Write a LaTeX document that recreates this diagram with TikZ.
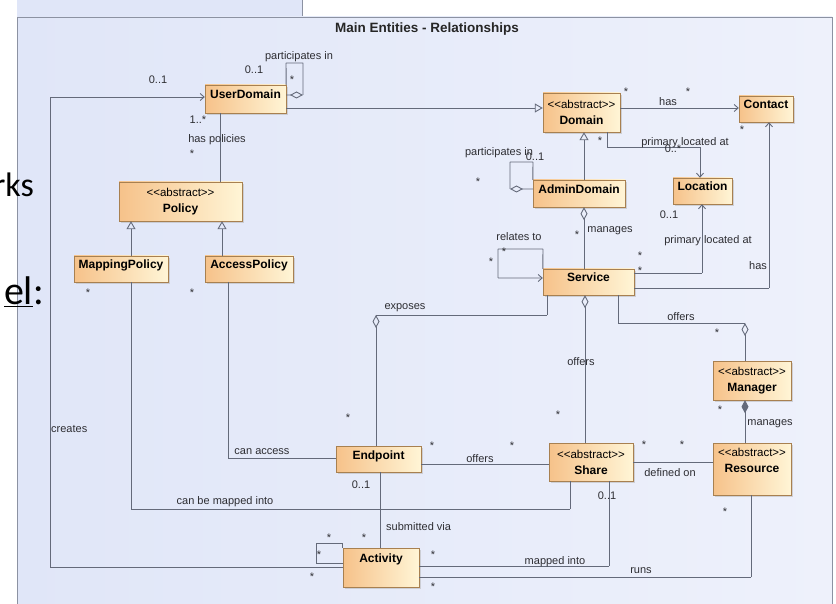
\documentclass[tikz,border=0pt]{standalone}
\usepackage{fontspec}
\setmainfont{Liberation Sans}
\newfontfamily\slidefont{Carlito}
\usetikzlibrary{positioning, arrows.meta, shadows}
\definecolor{boxdark}{RGB}{246,194,138}
\definecolor{boxlight}{RGB}{255,245,214}
\definecolor{boxline}{RGB}{168,128,80}
\definecolor{linegray}{RGB}{100,106,122}
\definecolor{framefill}{RGB}{224,230,248}
\definecolor{framefill2}{RGB}{238,241,251}
\definecolor{frameline}{RGB}{140,146,162}
\definecolor{labelgray}{RGB}{45,45,50}

\begin{document}
\begin{tikzpicture}[x=1pt,y=-1pt]
		\tikzstyle{box} = [draw=boxline, left color=boxdark, right color=boxlight, drop shadow={shadow xshift=2pt, shadow yshift=-2pt, fill=black!30}, inner sep=2pt, align=center, font=\fontsize{12}{16}\selectfont\bfseries]
		\tikzstyle{single} = [text height=9pt, text depth=9pt]
		\tikzstyle{invisible} = [outer sep=0,inner sep=0,minimum size=0]
		\tikzstyle{conn} = [draw=linegray, line width=0.9pt]
		\tikzstyle{gen} = [conn, -{Triangle[open, length=8pt, width=9pt]}]
		\tikzstyle{nav} = [conn, -{Straight Barb[length=4pt, width=7pt]}]
		\tikzstyle{agg} = [conn, {Diamond[open, length=13pt, width=7pt]}-]
		\tikzstyle{comp} = [conn, {Diamond[length=13pt, width=7pt]}-]
		\tikzstyle{lbl} = [inner sep=0, text=labelgray, font=\fontsize{11}{13}\selectfont]
		\tikzstyle{mult} = [lbl, yshift=-2.4pt]
		\useasboundingbox (0,0) rectangle (836,604);
		\fill [framefill] (17,0) rectangle (302,17);
		\draw [frameline] (302,0) -- (302,17);
		\draw [frameline, left color=framefill, right color=framefill2] (17,17) rectangle (832,612);
		\node [font=\fontsize{13.5}{15}\selectfont\bfseries, text=black!85] (v0) at (427,29) {Main Entities - Relationships};
		\node [font=\slidefont\fontsize{34}{40}\selectfont, anchor=base east, inner sep=0] (v110) at (34,197) {rks};
		\node [font=\slidefont\fontsize{40}{46}\selectfont, anchor=base east, inner sep=0] (v111) at (44,305) {\underline{el}:};
		\node [box, single, minimum width=81pt, minimum height=28pt] (v1) at (245.5,99) {UserDomain};
		\node [box, minimum width=77pt, minimum height=39pt] (v2) at (581.5,112.5) {{\mdseries\fontsize{11.5}{16}\selectfont <{}<abstract>{}>}\\Domain};
		\node [box, single, minimum width=54pt, minimum height=26pt] (v3) at (766,109) {Contact};
		\node [box, single, minimum width=92pt, minimum height=27pt] (v4) at (579,193.5) {AdminDomain};
		\node [box, single, minimum width=59pt, minimum height=26pt] (v5) at (702.5,191) {Location};
		\node [box, single, minimum width=91pt, minimum height=26pt] (v6) at (588.5,282) {Service};
		\node [box, minimum width=123pt, minimum height=39pt] (v7) at (180.5,201.5) {{\mdseries\fontsize{11.5}{16}\selectfont <{}<abstract>{}>}\\Policy};
		\node [box, single, minimum width=94pt, minimum height=26pt] (v8) at (121,269) {MappingPolicy};
		\node [box, single, minimum width=88pt, minimum height=26pt] (v9) at (249,269) {AccessPolicy};
		\node [box, minimum width=78pt, minimum height=39pt] (v10) at (752,380.5) {{\mdseries\fontsize{11.5}{16}\selectfont <{}<abstract>{}>}\\Manager};
		\node [box, text height=25pt, text depth=19pt, minimum width=78pt, minimum height=52pt] (v11) at (752,469) {{\mdseries\fontsize{11.5}{16}\selectfont <{}<abstract>{}>}\\Resource};
		\node [box, minimum width=84pt, minimum height=38pt] (v12) at (591,462) {{\mdseries\fontsize{11.5}{16}\selectfont <{}<abstract>{}>}\\Share};
		\node [box, single, minimum width=85pt, minimum height=26pt] (v13) at (378.5,459) {Endpoint};
		\node [box, text height=9pt, text depth=19.4pt, minimum width=76pt, minimum height=39pt] (v14) at (381,567.5) {Activity};
		\node [invisible] (v15) at (286,108) {};
		\draw [gen] (v15 -| v1.east) -- (v15 -| v2.west);
		\node [invisible] (v16) at (286,63) {};
		\node [invisible] (v17) at (303,63) {};
		\node [invisible] (v18) at (303,95) {};
		\draw [agg] (v1.north east) -- (v16) -- (v17) -- (v18) -- (v18 -| v1.east);
		\node [invisible] (v19) at (50,567) {};
		\node [invisible] (v20) at (50,97) {};
		\draw [nav] (v19 -| v14.west) -- (v19) -- (v20) -- (v20 -| v1.west);
		\node [invisible] (v21) at (220,150) {};
		\draw [conn] (v21 |- v1.south) -- (v21 |- v7.north);
		\node [invisible] (v22) at (131,240) {};
		\draw [gen] (v22 |- v8.north) -- (v22 |- v7.south);
		\node [invisible] (v23) at (222,240) {};
		\draw [gen] (v23 |- v9.north) -- (v23 |- v7.south);
		\node [invisible] (v24) at (131,509) {};
		\node [invisible] (v25) at (570,509) {};
		\draw [conn] (v24 |- v8.south) -- (v24) -- (v25) -- (v25 |- v12.south);
		\node [invisible] (v26) at (228,458) {};
		\draw [conn] (v26 |- v9.south) -- (v26) -- (v26 -| v13.west);
		\node [invisible] (v27) at (547,315) {};
		\node [invisible] (v28) at (376,315) {};
		\draw [agg] (v27 |- v6.south) -- (v27) -- (v28) -- (v28 |- v13.north);
		\node [invisible] (v29) at (480,464) {};
		\draw [conn] (v29 -| v13.east) -- (v29 -| v12.west);
		\node [invisible] (v30) at (380,510) {};
		\draw [conn] (v30 |- v13.south) -- (v30 |- v14.north);
		\node [invisible] (v31) at (316,543) {};
		\node [invisible] (v32) at (316,563) {};
		\draw [conn] (v14.north west) -- (v31 -| v14.west) -- (v31) -- (v32) -- (v32 -| v14.west);
		\node [invisible] (v33) at (585,360) {};
		\draw [agg] (v33 |- v6.south) -- (v33 |- v12.north);
		\node [invisible] (v34) at (618,323) {};
		\node [invisible] (v35) at (745,323) {};
		\draw [agg] (v34 |- v6.south) -- (v34) -- (v35) -- (v35 |- v10.north);
		\draw [comp] (v35 |- v10.south) -- (v35 |- v11.north);
		\node [invisible] (v36) at (670,462) {};
		\draw [conn] (v36 -| v12.east) -- (v36 -| v11.west);
		\node [invisible] (v37) at (609,566) {};
		\draw [conn] (v37 |- v12.south) -- (v37) -- (v37 -| v14.east);
		\node [invisible] (v38) at (751,577) {};
		\draw [conn] (v38 |- v11.south) -- (v38) -- (v38 -| v14.east);
		\node [invisible] (v39) at (680,108) {};
		\draw [nav] (v39 -| v2.east) -- (v39 -| v3.west);
		\node [invisible] (v40) at (607,147) {};
		\node [invisible] (v41) at (700,147) {};
		\draw [nav] (v40 |- v2.south) -- (v40) -- (v41) -- (v41 |- v5.north);
		\node [invisible] (v42) at (584,156) {};
		\draw [gen] (v42 |- v4.north) -- (v42 |- v2.south);
		\node [invisible] (v43) at (533,162) {};
		\node [invisible] (v44) at (510,162) {};
		\node [invisible] (v45) at (510,189) {};
		\draw [agg] (v4.north west) -- (v43) -- (v44) -- (v45) -- (v45 -| v4.west);
		\draw [agg] (v42 |- v4.south) -- (v42 |- v6.north);
		\node [invisible] (v46) at (543,249) {};
		\node [invisible] (v47) at (498,249) {};
		\node [invisible] (v48) at (498,278) {};
		\draw [nav] (v6.north west) -- (v46) -- (v47) -- (v48) -- (v48 -| v6.west);
		\node [invisible] (v49) at (702,273) {};
		\draw [nav] (v49 -| v6.east) -- (v49) -- (v49 |- v5.south);
		\node [invisible] (v50) at (769,288) {};
		\draw [nav] (v50 -| v6.east) -- (v50) -- (v50 |- v3.south);
		\node [lbl] (v51) at (299,57) {participates in};
		\node [lbl] (v52) at (254,70) {0..1};
		\node [mult] (v53) at (292,77) {*};
		\node [lbl] (v54) at (158,80) {0..1};
		\node [lbl] (v55) at (198,120) {1..*};
		\node [lbl] (v56) at (217,140) {has policies};
		\node [mult] (v57) at (192,151) {*};
		\node [lbl, anchor=west] (v58) at (51,429) {creates};
		\node [mult] (v59) at (312,574) {*};
		\node [mult] (v60) at (88,290) {*};
		\node [mult] (v61) at (192,290) {*};
		\node [lbl] (v62) at (225,502) {can be mapped into};
		\node [lbl] (v63) at (262,452) {can access};
		\node [mult] (v64) at (348,415) {*};
		\node [lbl] (v65) at (405,308) {exposes};
		\node [lbl] (v66) at (480,459) {offers};
		\node [mult] (v67) at (432,443) {*};
		\node [mult] (v68) at (512,443) {*};
		\node [lbl] (v69) at (361,485) {0..1};
		\node [lbl, anchor=west] (v70) at (386,527) {submitted via};
		\node [mult] (v71) at (329,535) {*};
		\node [mult] (v72) at (364,535) {*};
		\node [mult] (v73) at (319,552) {*};
		\node [lbl] (v74) at (581,362) {offers};
		\node [mult] (v75) at (558,412) {*};
		\node [lbl] (v76) at (681,317) {offers};
		\node [mult] (v77) at (717,330) {*};
		\node [lbl] (v78) at (770,424) {manages};
		\node [mult] (v79) at (720,407) {*};
		\node [lbl] (v80) at (670,473) {defined on};
		\node [mult] (v81) at (644,442) {*};
		\node [mult] (v82) at (682,442) {*};
		\node [lbl] (v83) at (607,496) {0..1};
		\node [lbl] (v84) at (555,562) {mapped into};
		\node [mult] (v85) at (433,552) {*};
		\node [lbl] (v86) at (641,571) {runs};
		\node [mult] (v87) at (433,584) {*};
		\node [mult] (v88) at (725,509) {*};
		\node [lbl] (v89) at (668,102) {has};
		\node [mult] (v90) at (626,89) {*};
		\node [mult] (v91) at (688,89) {*};
		\node [mult] (v92) at (742,127) {*};
		\node [lbl] (v93) at (685,143) {primary located at};
		\node [lbl] (v94) at (673,149) {0..*};
		\node [mult] (v95) at (600,138) {*};
		\node [lbl] (v96) at (499,153) {participates in};
		\node [lbl] (v97) at (535,157) {0..1};
		\node [mult] (v98) at (478,179) {*};
		\node [mult] (v100) at (577,232) {*};
		\node [lbl] (v101) at (610,231) {manages};
		\node [lbl] (v102) at (519,237) {relates to};
		\node [mult] (v103) at (504,249) {*};
		\node [mult] (v104) at (491,259) {*};
		\node [lbl] (v105) at (669,215) {0..1};
		\node [lbl] (v106) at (708,241) {primary located at};
		\node [mult] (v107) at (640,253) {*};
		\node [mult] (v108) at (640,268) {*};
		\node [lbl] (v109) at (758,266) {has};
		\end{tikzpicture}
\end{document}
